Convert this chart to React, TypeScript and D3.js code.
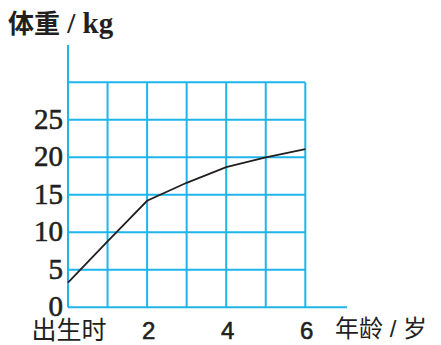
import React from "react";
import * as d3 from "d3";

const ages = [0, 1, 2, 3, 4, 5, 6];
const weights = [3.3, 8.8, 14.2, 16.6, 18.7, 20.0, 21.1];
const yTicks = [0, 5, 10, 15, 20, 25];
const xTickValues = [0, 2, 4, 6];
const xTickLabels = ["出生时", "2", "4", "6"];
const yTitleMain = "体重";
const yTitleUnit = " / kg";
const xTitle = "年龄 / 岁";

const W = 441;
const H = 345;
const GRID = "#1fb5ea";
const INK = "#231f20";

export default function App() {
  const x = d3.scaleLinear().domain([0, 6]).range([68, 305.3]);
  const y = d3.scaleLinear().domain([0, 30]).range([307.3, 82.3]);
  const line = d3
    .line<number>()
    .x((_, i) => x(ages[i]))
    .y((d) => y(d));
  const gridY = d3.range(0, 31, 5);
  const gridX = d3.range(0, 7, 1);

  return (
    <svg
      width={W}
      height={H}
      style={{ position: "absolute", left: 0, top: 0, background: "#fff" }}
    >
      {gridY.map((v) => (
        <line
          key={"h" + v}
          x1={x(0)}
          x2={v === 0 ? 347 : x(6)}
          y1={y(v)}
          y2={y(v)}
          stroke={GRID}
          strokeWidth={2}
        />
      ))}
      {gridX.map((v) => (
        <line
          key={"v" + v}
          x1={x(v)}
          x2={x(v)}
          y1={v === 0 ? 45 : y(30)}
          y2={y(0)}
          stroke={GRID}
          strokeWidth={2}
        />
      ))}
      <path
        d={line(weights) || ""}
        fill="none"
        stroke={INK}
        strokeWidth={1.8}
      />
      {yTicks.map((v) => (
        <text
          key={"yt" + v}
          x={63}
          y={y(v) + 9}
          textAnchor="end"
          fontFamily="'Liberation Serif', serif"
          fontSize={29}
          fill={INK}
          stroke={INK}
          strokeWidth={0.6}
        >
          {v}
        </text>
      ))}
      {xTickValues.map((v, i) => (
        <text
          key={"xt" + v}
          x={x(v) + (i === 0 ? 1 : 1.5)}
          y={339}
          textAnchor="middle"
          fontFamily={
            i === 0
              ? "'Noto Sans CJK SC', sans-serif"
              : "'Liberation Sans', sans-serif"
          }
          fontSize={i === 0 ? 25 : 24}
          fill={INK}
          stroke={i === 0 ? "none" : INK}
          strokeWidth={0.6}
        >
          {xTickLabels[i]}
        </text>
      ))}
      <text
        x={335}
        y={337}
        fontFamily="'Liberation Sans', 'Noto Sans CJK SC', sans-serif"
        fontSize={24}
        fill={INK}
      >
        {xTitle}
      </text>
      <text
        x={8}
        y={33}
        fontFamily="'Liberation Serif', 'Noto Sans CJK SC', serif"
        fontWeight="bold"
        fill={INK}
      >
        <tspan fontSize={26}>{yTitleMain}</tspan>
        <tspan fontSize={29}>{yTitleUnit}</tspan>
      </text>
    </svg>
  );
}
